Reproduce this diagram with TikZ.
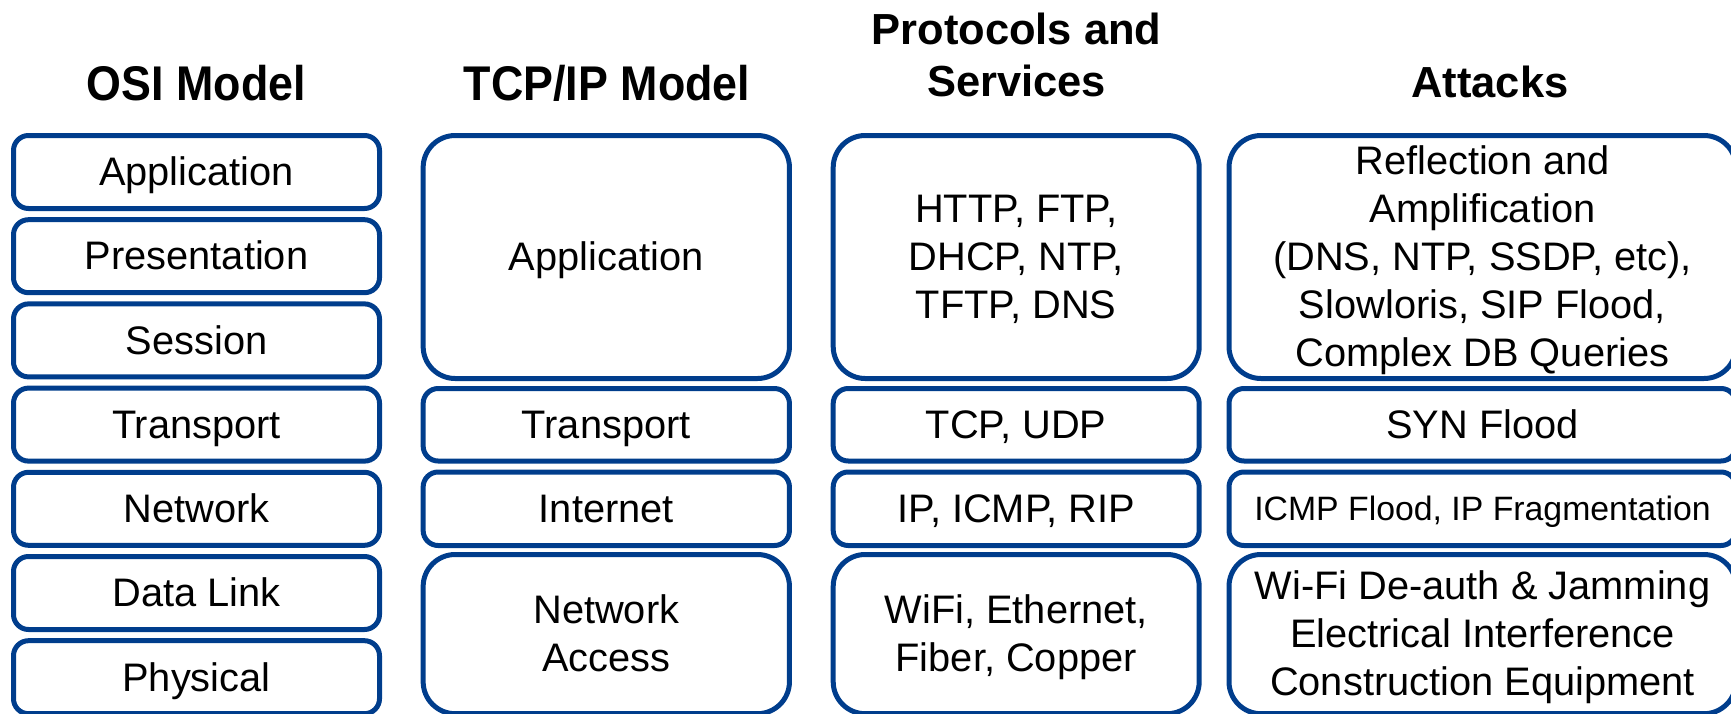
\documentclass[tikz,border=0pt]{standalone}
\usepackage{graphicx}
\usepackage{fontspec}
\setmainfont{Liberation Sans}
\definecolor{dblue}{RGB}{0,61,140}
\newcommand\pst{\rule[-0.212em]{0pt}{1.117em}}
\tikzset{
  box/.style={draw=dblue, line width=2.5pt, rounded corners=7.5pt, inner sep=0pt,
    align=center, text=black, font=\fontsize{19.9}{24}\selectfont},
  bigbox/.style={box, rounded corners=16pt},
  head/.style={font=\fontsize{21.75}{26}\selectfont\bfseries, align=center, inner sep=0pt},
  osicol/.style={box, minimum width=183pt, minimum height=36.5pt},
  tcpcol/.style={minimum width=183.15pt},
  procol/.style={minimum width=183pt},
  attcol/.style={minimum width=253.5pt},
}
\begin{document}
\begin{tikzpicture}[x=0.5pt,y=-0.5pt]
\useasboundingbox (0,0) rectangle (1731,713);

% headings
\node[head, anchor=base] (hosi) at (196.5,100) {\scalebox{1.03}[1.12]{OSI Model}};
\node[head, anchor=base] (htcp) at (607,100) {\scalebox{1.03}[1.12]{TCP/IP Model}};
\node[head, anchor=north] (hpro) at (1016.5,4.5) {\pst Protocols and\\\pst Services};
\node[head, anchor=base] (hatt) at (1490,97) {Attacks};

% OSI model
\node[osicol] (o1) at (196.5,172.0) {\pst Application};
\node[osicol] (o2) at (196.5,256.2) {\pst Presentation};
\node[osicol] (o3) at (196.5,340.4) {\pst Session};
\node[osicol] (o4) at (196.5,424.6) {\pst Transport};
\node[osicol] (o5) at (196.5,508.8) {\pst Network};
\node[osicol] (o6) at (196.5,593.0) {\pst Data Link};
\node[osicol] (o7) at (196.5,677.2) {\pst Physical};

% TCP/IP model
\node[bigbox, tcpcol, minimum height=121.5pt] (t1) at (606.3,257.0) {\pst Application};
\node[box, tcpcol, minimum height=36.25pt] (t2) at (606.3,424.75) {\pst Transport};
\node[box, tcpcol, minimum height=36.75pt] (t3) at (606.3,508.75) {\pst Internet};
\node[bigbox, tcpcol, minimum height=79.6pt] (t4) at (606.3,634.1) {\pst Network\\\pst Access};

% Protocols and services
\node[bigbox, procol, minimum height=121.5pt] (p1) at (1016.2,257.0) {\pst HTTP, FTP,\\\pst DHCP, NTP,\\\pst TFTP, DNS};
\node[box, procol, minimum height=36.25pt] (p2) at (1016.2,424.75) {\pst TCP, UDP};
\node[box, procol, minimum height=36.75pt] (p3) at (1016.2,508.75) {\pst IP, ICMP, RIP};
\node[bigbox, procol, minimum height=79.6pt] (p4) at (1016.2,634.1) {\pst WiFi, Ethernet,\\\pst Fiber, Copper};

% Attacks
\node[bigbox, attcol, minimum height=121.5pt] (a1) at (1482.5,257.0) {\pst Reflection and\\\pst Amplification\\\pst (DNS, NTP, SSDP, etc),\\\pst Slowloris, SIP Flood,\\\pst Complex DB Queries};
\node[box, attcol, minimum height=36.25pt] (a2) at (1482.5,424.75) {\pst SYN Flood};
\node[box, attcol, minimum height=36.75pt, font=\fontsize{16.9}{20}\selectfont] (a3) at (1482.5,508.75) {\pst ICMP Flood, IP Fragmentation};
\node[bigbox, attcol, minimum height=79.6pt] (a4) at (1482.5,634.1) {\pst Wi-Fi De-auth \& Jamming\\\pst Electrical Interference\\\pst Construction Equipment};
\end{tikzpicture}
\end{document}
